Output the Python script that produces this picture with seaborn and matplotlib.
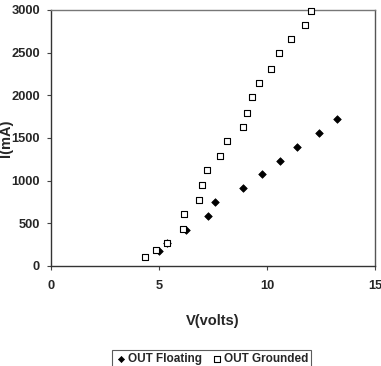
import matplotlib
matplotlib.use("Agg")
import matplotlib.pyplot as plt
import seaborn as sns
import pandas as pd

# Data
v_floating = [5.01, 5.39, 6.25, 7.28, 7.59, 8.9, 9.78, 10.6, 11.4, 12.4, 13.23]
i_floating = [180, 270, 422, 586, 750, 911, 1075, 1234, 1399, 1555, 1723]

v_grounded = [4.35, 4.86, 5.39, 6.1, 6.17, 6.85, 6.99, 7.22, 7.82, 8.13, 8.9,
              9.06, 9.32, 9.63, 10.2, 10.56, 11.11, 11.76, 12.02]
i_grounded = [102, 191, 273, 430, 606, 774, 953, 1122, 1290, 1462, 1626,
              1797, 1978, 2145, 2313, 2494, 2661, 2825, 2993]

series_names = ["OUT Floating", "OUT Grounded"]
x_ticks = [0, 5, 10, 15]
y_ticks = [0, 500, 1000, 1500, 2000, 2500, 3000]

sns.set_theme(style="white")
plt.rcParams["font.family"] = ["Liberation Sans", "DejaVu Sans"]
plt.rcParams["font.weight"] = "bold"

df_f = pd.DataFrame({"V": v_floating, "I": i_floating, "series": series_names[0]})
df_g = pd.DataFrame({"V": v_grounded, "I": i_grounded, "series": series_names[1]})

fig = plt.figure(figsize=(3.81, 3.66), dpi=100)
ax = fig.add_axes([51 / 381, 1 - 266 / 366, 324 / 381, 256 / 366])

sns.scatterplot(data=df_f, x="V", y="I", ax=ax, marker="D", s=15,
                color="black", edgecolor="black", linewidth=0.5,
                label=series_names[0], clip_on=False, zorder=3)
sns.scatterplot(data=df_g, x="V", y="I", ax=ax, marker="s", s=22,
                facecolor="white", edgecolor="black", linewidth=0.8,
                label=series_names[1], clip_on=False, zorder=4)

ax.set_xlim(0, 15)
ax.set_ylim(0, 3000)
ax.set_xticks(x_ticks)
ax.set_yticks(y_ticks)
ax.set_xticklabels([str(t) for t in x_ticks], fontsize=9.3, fontweight="bold")
ax.set_yticklabels([str(t) for t in y_ticks], fontsize=9.3, fontweight="bold")
ax.tick_params(axis="both", direction="out", length=3, width=0.8, color="#444444",
               bottom=True, left=True)
ax.tick_params(axis="y", pad=5)
ax.tick_params(axis="x", pad=7)

ax.set_xlabel("V(volts)", fontsize=10.5, fontweight="bold", labelpad=16)
ax.set_ylabel("I(mA)", fontsize=10.5, fontweight="bold")
ax.yaxis.set_label_coords(-0.118, 0.5)

for side, col in [("left", "#333333"), ("bottom", "#333333"),
                  ("top", "#777777"), ("right", "#555555")]:
    ax.spines[side].set_visible(True)
    ax.spines[side].set_color(col)
    ax.spines[side].set_linewidth(1.0)

leg = ax.legend(loc="upper center", bbox_to_anchor=(211.5 / 381, 1 - 344 / 366),
                bbox_transform=fig.transFigure, ncol=2, frameon=True, fancybox=False,
                prop={"size": 8.5, "weight": "bold"}, handletextpad=0.1,
                columnspacing=0.8, borderpad=0.25, handlelength=1.0, markerscale=0.8)
leg.get_frame().set_edgecolor("#333333")
leg.get_frame().set_linewidth(0.8)

fig.savefig("out.png", dpi=100)
